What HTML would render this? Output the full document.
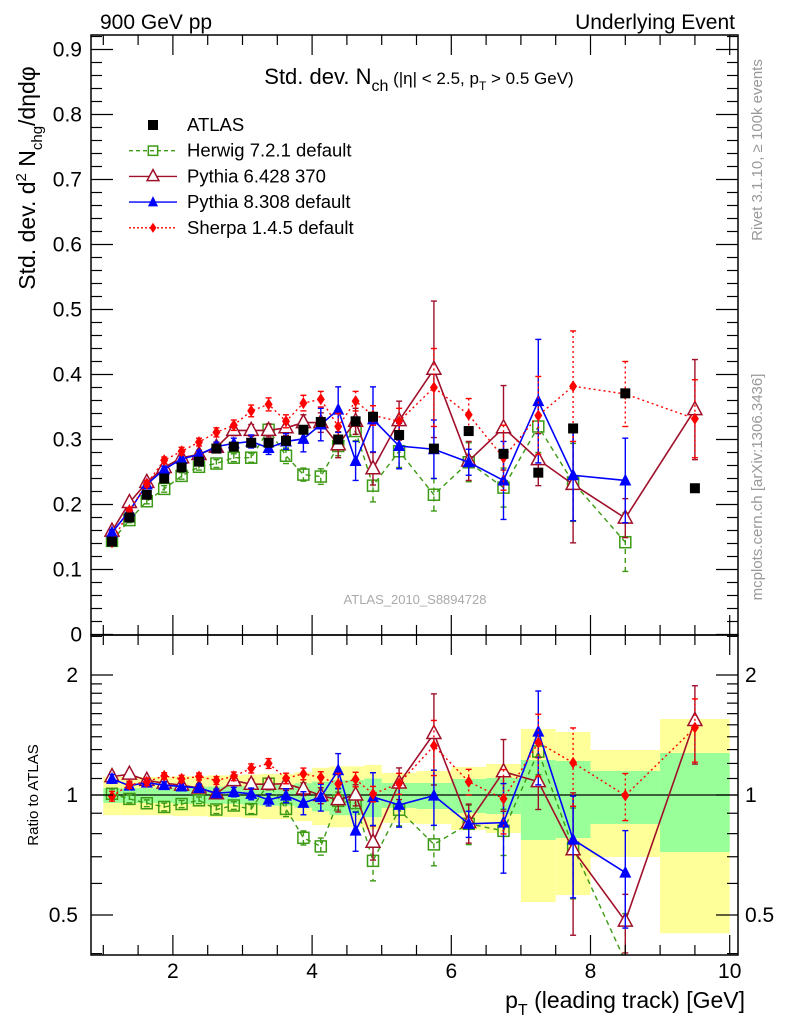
<!DOCTYPE html>
<html><head><meta charset="utf-8"><style>
body{margin:0;background:#fff;}
svg{display:block;font-family:"Liberation Sans",sans-serif;}
</style></head><body>
<svg id="chart" width="786" height="1024" viewBox="0 0 786 1024" xmlns="http://www.w3.org/2000/svg">
<defs>
<clipPath id="mainClip"><rect x="91" y="35" width="647" height="600"/></clipPath>
<clipPath id="ratioClip"><rect x="91" y="635" width="647" height="320"/></clipPath>
</defs>
<rect x="0" y="0" width="786" height="1024" fill="#fff"/>
<g id="ratioBands" clip-path="url(#ratioClip)"></g>
<g id="mainMarks" clip-path="url(#mainClip)"></g>
<g id="ratioMarks" clip-path="url(#ratioClip)"></g>
<g id="axes"></g>
<text x="100" y="29" font-size="21">900 GeV pp</text>
<text x="735" y="29" font-size="21" text-anchor="end">Underlying Event</text>
<text x="419" y="84" font-size="22" text-anchor="middle">Std. dev. N<tspan font-size="16" dy="7">ch</tspan><tspan font-size="17" dy="-7"> (|η| &lt; 2.5, p</tspan><tspan font-size="12" dy="6">T</tspan><tspan font-size="17" dy="-6"> &gt; 0.5 GeV)</tspan></text>
<text transform="translate(35,178) rotate(-90)" font-size="23" text-anchor="middle">Std. dev. d<tspan font-size="15" dy="-9">2</tspan><tspan dy="9"> N</tspan><tspan font-size="15" dy="7">chg</tspan><tspan dy="-7">/dηdφ</tspan></text>
<text transform="translate(38,795) rotate(-90)" font-size="15" text-anchor="middle">Ratio to ATLAS</text>
<text x="745" y="1008" font-size="23" text-anchor="end">p<tspan font-size="16" dy="7">T</tspan><tspan dy="-7"> (leading track) [GeV]</tspan></text>
<text transform="translate(762,150) rotate(-90)" font-size="15" fill="#999" text-anchor="middle">Rivet 3.1.10, ≥ 100k events</text>
<text transform="translate(762,487) rotate(-90)" font-size="15" fill="#999" text-anchor="middle">mcplots.cern.ch [arXiv:1306.3436]</text>
<text x="415" y="604" font-size="13" fill="#aaa" text-anchor="middle">ATLAS_2010_S8894728</text>
<g id="legend"></g>
</svg>
<script>
const xVals=[1.125,1.375,1.625,1.875,2.125,2.375,2.625,2.875,3.125,3.375,3.625,3.875,4.125,4.375,4.625,4.875,5.25,5.75,6.25,6.75,7.25,7.75,8.5,9.5];
const binHalf=[0.125,0.125,0.125,0.125,0.125,0.125,0.125,0.125,0.125,0.125,0.125,0.125,0.125,0.125,0.125,0.125,0.25,0.25,0.25,0.25,0.25,0.25,0.5,0.5];
const atlas=[0.143,0.18,0.215,0.24,0.257,0.266,0.286,0.289,0.295,0.295,0.298,0.315,0.327,0.30,0.328,0.335,0.307,0.286,0.313,0.278,0.249,0.317,0.371,0.225];
const bandYellowHi=[1.11,1.11,1.11,1.11,1.115,1.115,1.12,1.12,1.125,1.13,1.13,1.14,1.17,1.18,1.18,1.19,1.136,1.149,1.176,1.196,1.464,1.439,1.297,1.551];
const bandYellowLo=[0.89,0.89,0.89,0.89,0.885,0.885,0.88,0.88,0.875,0.87,0.87,0.86,0.84,0.83,0.83,0.82,0.851,0.846,0.817,0.803,0.539,0.561,0.699,0.45];
const bandGreenHi=[1.04,1.04,1.04,1.045,1.045,1.05,1.05,1.05,1.055,1.06,1.06,1.07,1.08,1.09,1.09,1.10,1.072,1.072,1.097,1.103,1.224,1.217,1.149,1.274];
const bandGreenLo=[0.955,0.955,0.955,0.955,0.95,0.95,0.95,0.95,0.945,0.94,0.94,0.93,0.91,0.89,0.89,0.88,0.928,0.922,0.901,0.896,0.771,0.78,0.846,0.719];
const herwig=[0.144,0.176,0.205,0.224,0.244,0.258,0.263,0.272,0.272,0.315,0.275,0.246,0.243,0.29,0.313,0.229,0.282,0.215,0.265,0.226,0.32,0.234,0.142,null];
const herwigErr=[0.004,0.004,0.004,0.005,0.005,0.005,0.006,0.006,0.007,0.008,0.012,0.01,0.012,0.015,0.015,0.025,0.025,0.025,0.03,0.03,0.04,0.06,0.045,0];
const pythia6=[0.159,0.203,0.234,0.257,0.272,0.277,0.288,0.314,0.314,0.314,0.318,0.326,0.326,0.292,0.328,0.255,0.329,0.408,0.267,0.318,0.269,0.231,0.179,0.346];
const pythia6Err=[0.004,0.004,0.004,0.005,0.005,0.006,0.007,0.008,0.009,0.01,0.012,0.012,0.015,0.02,0.02,0.025,0.03,0.105,0.03,0.065,0.04,0.09,0.03,0.077];
const pythia8=[0.157,0.19,0.231,0.254,0.27,0.277,0.289,0.294,0.297,0.287,0.297,0.301,0.323,0.346,0.267,0.331,0.29,0.285,0.265,0.237,0.359,0.245,0.237,null];
const pythia8Err=[0.004,0.004,0.004,0.005,0.005,0.006,0.007,0.008,0.01,0.01,0.012,0.02,0.025,0.035,0.03,0.05,0.035,0.045,0.02,0.06,0.095,0.07,0.065,0];
const sherpa=[0.142,0.191,0.232,0.268,0.282,0.296,0.311,0.322,0.344,0.354,0.328,0.356,0.362,0.32,0.359,0.337,0.328,0.38,0.338,0.272,0.337,0.382,0.37,0.332];
const sherpaErr=[0.004,0.004,0.005,0.005,0.006,0.006,0.007,0.008,0.009,0.01,0.01,0.012,0.012,0.02,0.015,0.015,0.02,0.06,0.025,0.05,0.06,0.085,0.05,0.06];
const mainTicks=[0,0.1,0.2,0.3,0.4,0.5,0.6,0.7,0.8,0.9];
const mainTickLabels=["0","0.1","0.2","0.3","0.4","0.5","0.6","0.7","0.8","0.9"];
const xTicks=[2,4,6,8,10];
const xTickLabels=["2","4","6","8","10"];
const ratioTicks=[0.5,1,2];
const ratioTickLabels=["0.5","1","2"];

const NS="http://www.w3.org/2000/svg";
const L=91,R=738,T=35,MB=635,RB=955;
function X(v){return 33.7+69.6*v;}
function Y(v){return 634.5-650*v;}
function YR(r){return 795-398.6*Math.log10(r);}
function mk(tag,attrs,parent){const e=document.createElementNS(NS,tag);for(const k in attrs)e.setAttribute(k,attrs[k]);parent.appendChild(e);return e;}
const axes=document.getElementById('axes');
const mainG=document.getElementById('mainMarks');
const ratioG=document.getElementById('ratioMarks');
const bandG=document.getElementById('ratioBands');

for(let i=0;i<xVals.length;i++){
  const x0=X(xVals[i]-binHalf[i]),x1=X(xVals[i]+binHalf[i]);
  const y1=mk('rect',{x:x0,y:YR(bandYellowHi[i]),width:x1-x0,height:YR(bandYellowLo[i])-YR(bandYellowHi[i]),fill:'#ffff99'},bandG);
  
  
}
for(let i=0;i<xVals.length;i++){
  const x0=X(xVals[i]-binHalf[i]),x1=X(xVals[i]+binHalf[i]);
  const g1=mk('rect',{x:x0,y:YR(bandGreenHi[i]),width:x1-x0,height:YR(bandGreenLo[i])-YR(bandGreenHi[i]),fill:'#99ff99'},bandG);
  
  
}
const one=mk('line',{x1:L,x2:R,y1:YR(1),y2:YR(1),stroke:'#000','stroke-width':1.2},bandG);



function marker(type,color,cx,cy,parent,s){
  s=s||1;let e;
  if(type==='square'){e=mk('rect',{x:cx-5*s,y:cy-5*s,width:10*s,height:10*s,fill:'#000'},parent);}
  else if(type==='osquare'){e=mk('rect',{x:cx-5.5*s,y:cy-5.5*s,width:11*s,height:11*s,fill:'none',stroke:color,'stroke-width':1.5},parent);}
  else if(type==='otri'){e=mk('polygon',{points:`${cx},${cy-8*s} ${cx-7*s},${cy+5*s} ${cx+7*s},${cy+5*s}`,fill:'#fff',stroke:color,'stroke-width':1.5},parent);}
  else if(type==='tri'){e=mk('polygon',{points:`${cx},${cy-7*s} ${cx-6*s},${cy+5*s} ${cx+6*s},${cy+5*s}`,fill:color},parent);}
  else {e=mk('polygon',{points:`${cx},${cy-6*s} ${cx-4*s},${cy} ${cx},${cy+6*s} ${cx+4*s},${cy}`,fill:color},parent);}
  return e;
}
const series=[
  {name:'herwig',vals:herwig,errs:herwigErr,color:'#3c9a14',dash:'5,4',m:'osquare',w:1.4},
  {name:'pythia6',vals:pythia6,errs:pythia6Err,color:'#a0102a',dash:'',m:'otri',w:1.6},
  {name:'pythia8',vals:pythia8,errs:pythia8Err,color:'#0000ff',dash:'',m:'tri',w:1.6},
  {name:'sherpa',vals:sherpa,errs:sherpaErr,color:'#ff0000',dash:'2,3',m:'diamond',w:1.4}
];
function drawSeries(s,parent,yf,ratio){
  let pts=[];
  for(let i=0;i<xVals.length;i++){
    if(s.vals[i]===null)continue;
    const v=ratio?s.vals[i]/atlas[i]:s.vals[i];
    const e=ratio?s.errs[i]/atlas[i]:s.errs[i];
    pts.push(X(xVals[i])+','+yf(v));
    if(e>0){
      const lo=Math.max(v-e,0.01);
      const eb=mk('line',{x1:X(xVals[i]),x2:X(xVals[i]),y1:yf(v+e),y2:yf(lo),stroke:s.color,'stroke-width':1.4,'stroke-dasharray':s.dash},parent);
      
      
      [v+e,lo].forEach(q=>{mk('line',{x1:X(xVals[i])-3,x2:X(xVals[i])+3,y1:yf(q),y2:yf(q),stroke:s.color,'stroke-width':1.4},parent);});
    }
  }
  const pl=mk('polyline',{points:pts.join(' '),fill:'none',stroke:s.color,'stroke-width':s.w,'stroke-dasharray':s.dash},parent);
  
  
  for(let i=0;i<xVals.length;i++){
    if(s.vals[i]===null)continue;
    const v=ratio?s.vals[i]/atlas[i]:s.vals[i];
    const m=marker(s.m,s.color,X(xVals[i]),yf(v),parent);
    
    
  }
}
series.forEach(s=>drawSeries(s,mainG,Y,false));
for(let i=0;i<xVals.length;i++){
  const m=marker('square','#000',X(xVals[i]),Y(atlas[i]),mainG);
  
  
}
series.forEach(s=>drawSeries(s,ratioG,YR,true));

const f1=mk('rect',{x:L,y:T,width:R-L,height:MB-T,fill:'none',stroke:'#000','stroke-width':1.5},axes);


const f2=mk('rect',{x:L,y:MB,width:R-L,height:RB-MB,fill:'none',stroke:'#000','stroke-width':1.5},axes);


function tick(x1,y1,x2,y2){mk('line',{x1:x1,y1:y1,x2:x2,y2:y2,stroke:'#000','stroke-width':1.2},axes);}
for(let k=0;k<=46;k++){
  const v=k*0.02;const y=Y(v);const maj=(k%5===0);const len=maj?22:11;
  tick(L,y,L+len,y);tick(R,y,R-len,y);
}
mainTicks.forEach((v,i)=>{const t=mk('text',{x:82,y:Y(v)+7,'font-size':21,'text-anchor':'end'},axes);t.textContent=mainTickLabels[i];});
for(let k=2;k<=20;k++){
  const v=k*0.5;const x=X(v);const maj=(k%4===0);const len=maj?20:10;
  tick(x,T,x,T+len);tick(x,MB,x,MB-len);tick(x,MB,x,MB+len);tick(x,RB,x,RB-len);
}
xTicks.forEach((v,i)=>{const t=mk('text',{x:X(v),y:978,'font-size':21,'text-anchor':'middle'},axes);t.textContent=xTickLabels[i];});
[0.4,0.5,0.6,0.7,0.8,0.9,1,1.1,1.2,1.3,1.4,1.5,1.6,1.7,1.8,1.9,2,2.5].forEach(v=>{
  const y=YR(v);if(y<MB||y>RB)return;const maj=(v===0.5||v===1||v===2);const len=maj?22:11;
  tick(L,y,L+len,y);tick(R,y,R-len,y);
});
ratioTicks.forEach((v,i)=>{
  const t=mk('text',{x:78,y:YR(v)+7,'font-size':21,'text-anchor':'end'},axes);t.textContent=ratioTickLabels[i];
  const t2=mk('text',{x:745,y:YR(v)+7,'font-size':21},axes);t2.textContent=ratioTickLabels[i];
});
const lg=document.getElementById('legend');
const legendItems=[
  {label:'ATLAS',m:'square',color:'#000',dash:null},
  {label:'Herwig 7.2.1 default',m:'osquare',color:'#3c9a14',dash:'4,3'},
  {label:'Pythia 6.428 370',m:'otri',color:'#a0102a',dash:''},
  {label:'Pythia 8.308 default',m:'tri',color:'#0000ff',dash:''},
  {label:'Sherpa 1.4.5 default',m:'diamond',color:'#ff0000',dash:'2,2'}
];
legendItems.forEach((it,i)=>{
  const y=125+i*25.7;
  const g=mk('g',{},lg);
  
  
  if(it.dash!==null)mk('line',{x1:129,x2:177,y1:y,y2:y,stroke:it.color,'stroke-width':1.4,'stroke-dasharray':it.dash},g);
  marker(it.m,it.color,153,y,g,it.m==='square'?1:0.85);
  const t=mk('text',{x:187,y:y+6,'font-size':18.5},g);t.textContent=it.label;
});
</script>
</body></html>
